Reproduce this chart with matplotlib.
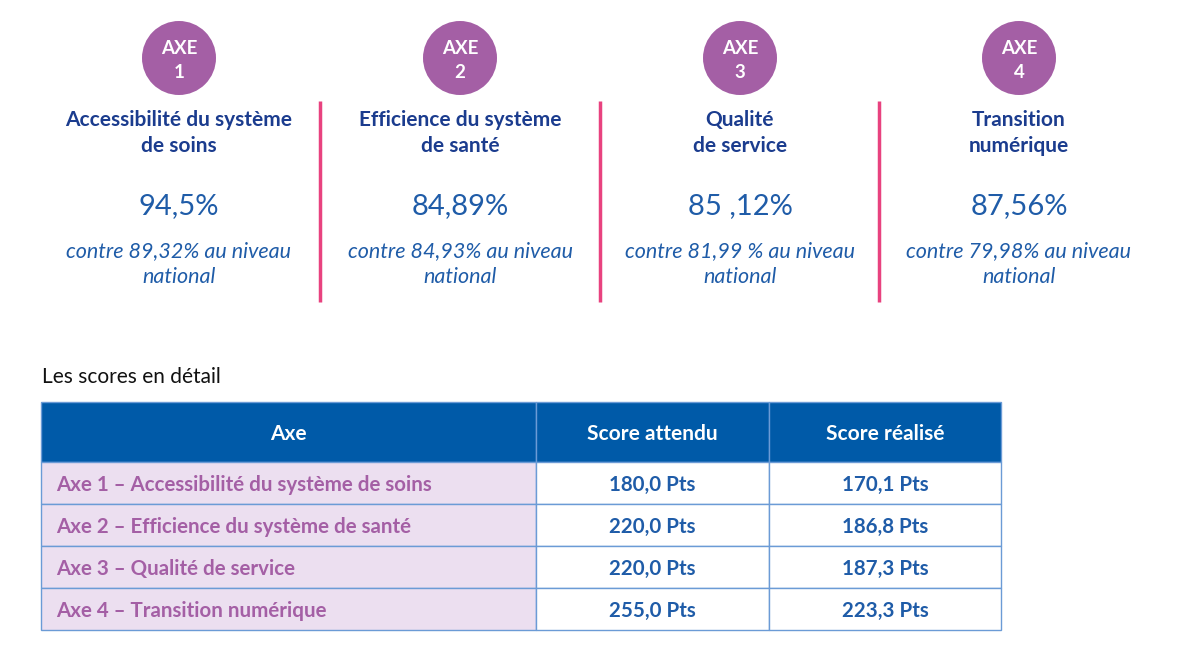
import matplotlib.pyplot as plt
from matplotlib.patches import Circle, Rectangle

plt.rcParams['font.family'] = ['Lato', 'DejaVu Sans']

# donnees
axe_num = ["1", "2", "3", "4"]
axe_titres = [("Accessibilité du système", "de soins"),
              ("Efficience du système", "de santé"),
              ("Qualité", "de service"),
              ("Transition", "numérique")]
scores_pct = ["94,5%", "84,89%", "85 ,12%", "87,56%"]
national_pct = ["89,32%", "84,93%", "81,99 %", "79,98%"]

lignes_table = ["Axe 1 – Accessibilité du système de soins",
                "Axe 2 – Efficience du système de santé",
                "Axe 3 – Qualité de service",
                "Axe 4 – Transition numérique"]
score_attendu = [180.0, 220.0, 220.0, 255.0]
score_realise = [170.1, 186.8, 187.3, 223.3]
entetes = ["Axe", "Score attendu", "Score réalisé"]

violet = "#a45fa5"
bleu_fonce = "#1b3c8e"
bleu = "#1f5ca8"
rose = "#e8427f"
bleu_entete = "#005aa8"
violet_clair = "#ecdff0"
bordure = "#6b9bd6"

fig = plt.figure(figsize=(12, 6.52), dpi=100)
ax = fig.add_axes([0, 0, 1, 1])
ax.set_xlim(0, 1200)
ax.set_ylim(652, 0)
ax.axis("off")

cx = [179, 460, 740, 1019]
for i in range(4):
    x = cx[i]
    ax.add_patch(Circle((x, 58), 37, color=violet, lw=0))
    ax.text(x, 48, "AXE", color="white", fontsize=13.5, fontweight="bold", ha="center", va="center")
    ax.text(x, 72, axe_num[i], color="white", fontsize=13.5, fontweight="bold", ha="center", va="center")
    ax.text(x, 120, axe_titres[i][0], color=bleu_fonce, fontsize=15, fontweight="bold", ha="center", va="center")
    ax.text(x, 146, axe_titres[i][1], color=bleu_fonce, fontsize=15, fontweight="bold", ha="center", va="center")
    ax.text(x, 206, scores_pct[i], color=bleu, fontsize=21, ha="center", va="center")
    ax.text(x, 251, "contre " + national_pct[i] + " au niveau", color=bleu, fontsize=15.5,
            style="italic", ha="center", va="center")
    ax.text(x, 277, "national", color=bleu, fontsize=15.5, style="italic", ha="center", va="center")

for xs in [320, 600, 879]:
    ax.plot([xs, xs], [101, 302], color=rose, lw=2.5, solid_capstyle="butt")

ax.text(42, 377, "Les scores en détail", color="#111111", fontsize=15, ha="left", va="center")

# tableau
col_x = [41, 536, 769, 1001]
y_head = 402
h_head = 60
h_row = 42

for j in range(3):
    ax.add_patch(Rectangle((col_x[j], y_head), col_x[j + 1] - col_x[j], h_head,
                           facecolor=bleu_entete, edgecolor=bordure, lw=1))
    ax.text((col_x[j] + col_x[j + 1]) / 2, y_head + h_head / 2 + 2, entetes[j], color="white",
            fontsize=15, fontweight="bold", ha="center", va="center")

for i in range(len(lignes_table)):
    y0 = y_head + h_head + i * h_row
    ax.add_patch(Rectangle((col_x[0], y0), col_x[1] - col_x[0], h_row,
                           facecolor=violet_clair, edgecolor=bordure, lw=1))
    ax.add_patch(Rectangle((col_x[1], y0), col_x[2] - col_x[1], h_row,
                           facecolor="white", edgecolor=bordure, lw=1))
    ax.add_patch(Rectangle((col_x[2], y0), col_x[3] - col_x[2], h_row,
                           facecolor="white", edgecolor=bordure, lw=1))
    ym = y0 + h_row / 2 + 2
    ax.text(56, ym, lignes_table[i], color=violet, fontsize=14.8, fontweight="bold", ha="left", va="center")
    ax.text((col_x[1] + col_x[2]) / 2, ym, f"{score_attendu[i]:.1f} Pts".replace(".", ","),
            color=bleu, fontsize=14.8, fontweight="bold", ha="center", va="center")
    ax.text((col_x[2] + col_x[3]) / 2, ym, f"{score_realise[i]:.1f} Pts".replace(".", ","),
            color=bleu, fontsize=14.8, fontweight="bold", ha="center", va="center")

fig.savefig("out.png", dpi=100)
